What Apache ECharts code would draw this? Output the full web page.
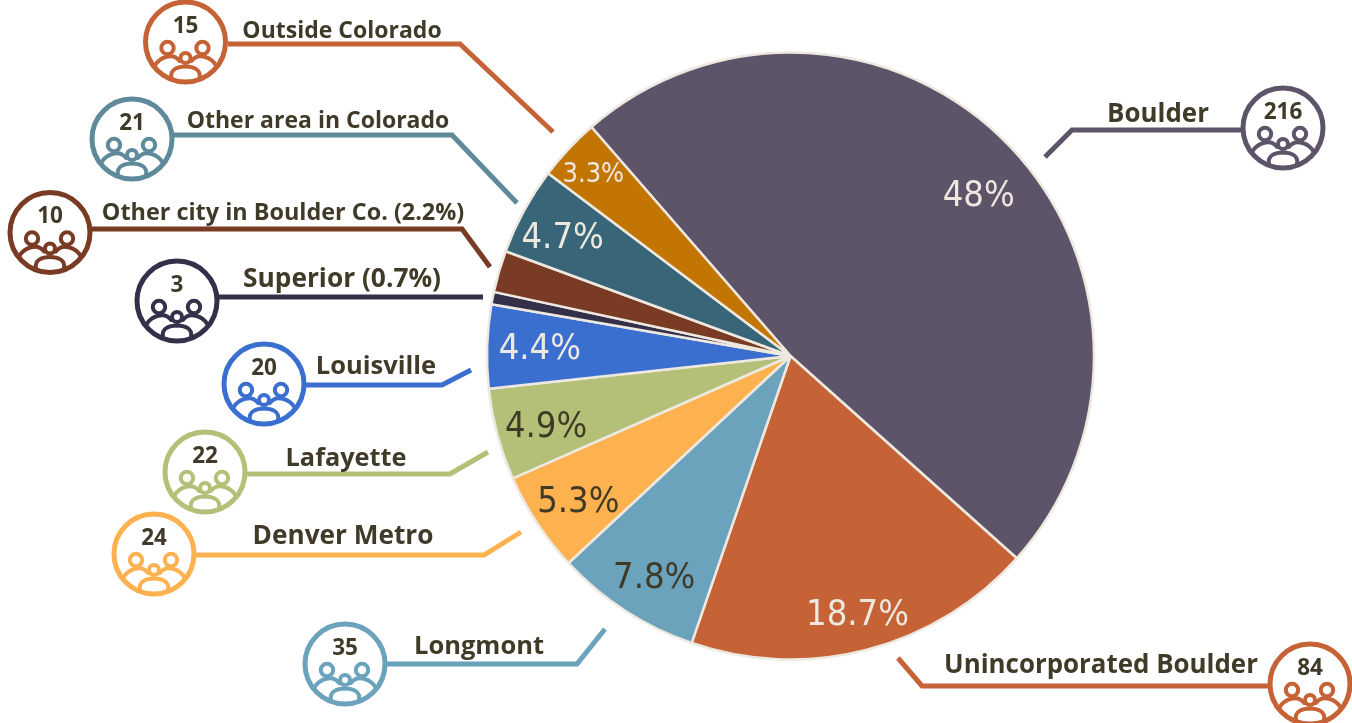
<!DOCTYPE html>
<html>
<head>
<meta charset="utf-8">
<style>html,body{margin:0;padding:0;background:#fff}#c{width:1352px;height:723px}</style>
<script src="https://cdn.jsdelivr.net/npm/echarts@6/dist/echarts.min.js"></script>
</head>
<body>
<div id="c"></div>
<script>
// ---- data ----
const categories = ['Boulder','Unincorporated Boulder','Longmont','Denver Metro','Lafayette','Louisville','Superior (0.7%)','Other city in Boulder Co. (2.2%)','Other area in Colorado','Outside Colorado'];
const counts = [216,84,35,24,22,20,3,10,21,15];
const percentLabels = ['48%','18.7%','7.8%','5.3%','4.9%','4.4%','','','4.7%','3.3%'];

// ---- styles and layout (not data) ----
const sliceColors = ['#5e5469','#c66336','#6ba2bc','#fdb14f','#b4bf77','#3a6fd0','#34304a','#793b23','#386577','#c37502'];
const calloutColors = ['#5e5469','#c66336','#6ba2bc','#fdb14f','#b4bf77','#3a6fd0','#34304a','#793b23','#5f8a9b','#c66336'];
const percentColors = ['#eee9e0','#eee9e0','#3f3a26','#3f3a26','#3f3a26','#eee9e0','#eee9e0','#eee9e0','#eee9e0','#eee9e0'];
const percentSizes = [36,36,36,36,36,36,36,36,36,27];
const percentShift = [[78,-51],[28,110],[-52,93],[-83,61],[-95,32],[-96,-1],[0,0],[0,0],[-92,-43],[-84,-75]];
const badgeCenters = [[1283,128],[1310,684],[345,664],[154,554],[205,472],[264,384],[177,301],[50,232.5],[132,139],[185.5,42]];
const leaderPaths = [
  [[1241,130],[1072,130],[1045,157]],
  [[1268,686],[922,686],[898,658]],
  [[387,664],[577,664],[605,629]],
  [[196,555],[484,555],[521,532]],
  [[247,474],[450,474],[488,452]],
  [[305,385],[442,385],[471,370]],
  [[219,297],[483,297]],
  [[92,229],[462,229],[490,267]],
  [[174,135],[452,135],[517,203]],
  [[228,44],[460,44],[553,132]]
];
const nameCenters = [[1158,115],[1101,666],[479,647],[343,537],[346,459],[376,367],[342,280],[283,213],[318,121],[342,31]];
const nameSizes = [25.9,25.9,25.5,26.2,25.3,25.5,26.3,23.4,23,23];
const TEXT = '#403a28';
const FONT = '"Open Sans", sans-serif';

function badge(i){
  const [x,y] = badgeCenters[i], c = calloutColors[i];
  const ln = {stroke:c,lineWidth:4,fill:'none',lineCap:'round'};
  const ring = (cx,cy,r)=>({type:'circle',silent:true,shape:{cx,cy,r},style:{...ln,fill:'#fff'}});
  return {type:'group',x,y,children:[
    {type:'circle',silent:true,shape:{cx:0,cy:0,r:40},style:{stroke:c,lineWidth:5,fill:'#fff'}},
    {type:'bezierCurve',silent:true,shape:{x1:-31,y1:24,cpx1:-26,cpy1:15,cpx2:-12,cpy2:10,x2:-6,y2:19},style:ln},
    {type:'bezierCurve',silent:true,shape:{x1:31,y1:24,cpx1:26,cpy1:15,cpx2:12,cpy2:10,x2:6,y2:19},style:ln},
    {type:'bezierCurve',silent:true,shape:{x1:-14,y1:36,cpx1:-16,cpy1:27,cpx2:-7,cpy2:24.5,x2:0,y2:24.5},style:ln},
    {type:'bezierCurve',silent:true,shape:{x1:14,y1:36,cpx1:16,cpy1:27,cpx2:7,cpy2:24.5,x2:0,y2:24.5},style:ln},
    ring(-18,6,6.2), ring(17,6,6.2), ring(0,16,5),
    {type:'text',silent:true,x:0,y:-15.5,style:{text:String(counts[i]),font:'bold 22.5px '+FONT,fill:TEXT,align:'center',verticalAlign:'middle'}}
  ]};
}

const graphicEls = [];
categories.forEach((name,i)=>{
  graphicEls.push({type:'polyline',silent:true,shape:{points:leaderPaths[i]},style:{stroke:calloutColors[i],lineWidth:5,fill:'none'}});
  graphicEls.push(badge(i));
  graphicEls.push({type:'text',silent:true,x:nameCenters[i][0],y:nameCenters[i][1],style:{text:name,font:'bold '+nameSizes[i]+'px '+FONT,fill:TEXT,align:'center',verticalAlign:'middle'}});
});

const chart = echarts.init(document.getElementById('c'),null,{renderer:'canvas'});
chart.setOption({
  animation:false,
  backgroundColor:'#fff',
  graphic:{elements:graphicEls},
  series:[{
    type:'pie',
    center:[790.5,356],
    radius:[0,303.5],
    startAngle:131,
    clockwise:true,
    avoidLabelOverlap:false,
    silent:true,
    labelLine:{show:false},
    label:{show:true,position:'inside'},
    labelLayout:p=>({dx:percentShift[p.dataIndex][0],dy:percentShift[p.dataIndex][1]}),
    data:categories.map((name,i)=>({
      name,value:counts[i],
      itemStyle:{color:sliceColors[i],borderColor:'#eee9e0',borderWidth:2.5},
      label:{formatter:percentLabels[i]||' ',color:percentColors[i],fontSize:percentSizes[i],fontFamily:'"DejaVu Sans Condensed","DejaVu Sans"',fontWeight:'normal'}
    }))
  }]
});
</script>
</body>
</html>
